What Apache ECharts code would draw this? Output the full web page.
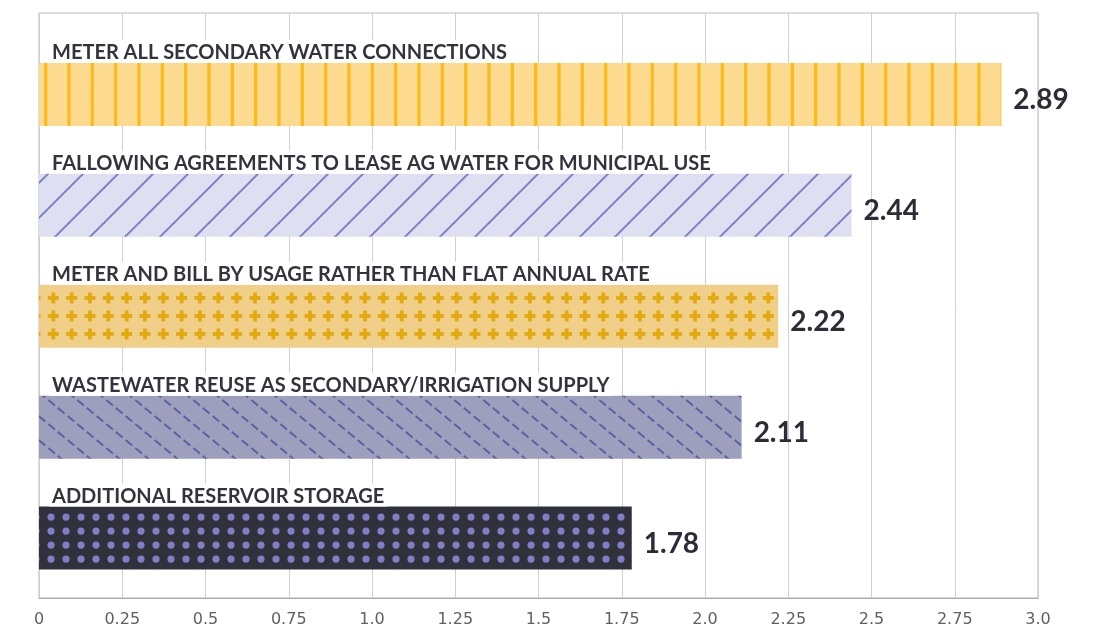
<!DOCTYPE html>
<html>
<head>
<meta charset="utf-8">
<script src="https://cdn.jsdelivr.net/npm/echarts@6/dist/echarts.min.js"></script>
<style>
  html, body { margin: 0; padding: 0; background: #ffffff; }
  #chart { width: 1100px; height: 629px; }
</style>
</head>
<body>
<div id="chart"></div>
<script>
// Water-supply measures, listed top to bottom, with their average scores
const categories = [
  'METER ALL SECONDARY WATER CONNECTIONS',
  'FALLOWING AGREEMENTS TO LEASE AG WATER FOR MUNICIPAL USE',
  'METER AND BILL BY USAGE RATHER THAN FLAT ANNUAL RATE',
  'WASTEWATER REUSE AS SECONDARY/IRRIGATION SUPPLY',
  'ADDITIONAL RESERVOIR STORAGE'
];
const values = [2.89, 2.44, 2.22, 2.11, 1.78];
const tickLabels = ['0', '0.25', '0.5', '0.75', '1.0', '1.25', '1.5', '1.75', '2.0', '2.25', '2.5', '2.75', '3.0'];

const BAR_H = 63;
const chart = echarts.init(document.getElementById('chart'), null, { renderer: 'canvas' });

function tile(w, h, draw) {
  const c = document.createElement('canvas');
  c.width = w; c.height = h;
  draw(c.getContext('2d'));
  return c;
}
const mod = (a, m) => ((a % m) + m) % m;

// Fill patterns; each one is laid out against the bar's top edge (pattern origin is the canvas origin)
function stripes(top) {
  const W = 70, H = BAR_H;
  return tile(W, H, ctx => {
    ctx.fillStyle = '#fcda8f'; ctx.fillRect(0, 0, W, H);
    ctx.fillStyle = '#fbbb1d';
    for (let k = 0; k < 3; k++) {
      const x = mod(44 + k * W / 3, W);
      ctx.fillRect(x, 0, 3.3, H); ctx.fillRect(x - W, 0, 3.3, H);
    }
  });
}
function slashes(top) {
  const S = 35;
  const c = mod(55 + top + BAR_H, S);
  return tile(S, S, ctx => {
    ctx.fillStyle = '#dedff0'; ctx.fillRect(0, 0, S, S);
    ctx.strokeStyle = '#7f80c4'; ctx.lineWidth = 2;
    for (let m = -1; m <= 2; m++) {
      ctx.beginPath();
      ctx.moveTo(c + S * m + 1, -1); ctx.lineTo(c + S * m - S - 1, S + 1);
      ctx.stroke();
    }
  });
}
function pluses(top) {
  const W = 55, H = BAR_H;
  return tile(W, H, ctx => {
    ctx.fillStyle = '#f0cf89'; ctx.fillRect(0, 0, W, H);
    ctx.fillStyle = '#e3a910';
    for (let r = 0; r < 3; r++) {
      const cy = mod(top + 13.2 + 18 * r, H);
      for (let k = 0; k < 3; k++) {
        const cx = mod(53.3 + k * W / 3, W);
        for (const dx of [0, -W, W]) for (const dy of [0, -H, H]) {
          ctx.fillRect(cx + dx - 5.5, cy + dy - 1.9, 11, 3.8);
          ctx.fillRect(cx + dx - 1.9, cy + dy - 5.5, 3.8, 11);
        }
      }
    }
  });
}
function dashes(top) {
  const W = 29, H = 24;
  const L = Math.sqrt(W * W + H * H), p = L / 3;
  return tile(W, H, ctx => {
    ctx.fillStyle = '#9e9ebd'; ctx.fillRect(0, 0, W, H);
    ctx.strokeStyle = '#5c5ca2'; ctx.lineWidth = 1.8;
    ctx.setLineDash([p * 0.68, p * 0.32]);
    for (const [ox, oy] of [[0, 0], [0, -H], [0, H], [-W, 0], [W, 0]]) {
      ctx.beginPath();
      ctx.moveTo(ox - W, oy - H); ctx.lineTo(ox + 2 * W, oy + 2 * H);
      ctx.stroke();
    }
  });
}
function dots(top) {
  const W = 15, H = BAR_H;
  return tile(W, H, ctx => {
    ctx.fillStyle = '#30313a'; ctx.fillRect(0, 0, W, H);
    ctx.fillStyle = '#7f7fc6';
    const cx = mod(51, W);
    for (let r = 0; r < 4; r++) {
      const cy = mod(top + 10.5 + 14 * r, H);
      for (const dx of [0, -W, W]) for (const dy of [0, -H, H]) {
        ctx.beginPath(); ctx.arc(cx + dx, cy + dy, 3.6, 0, Math.PI * 2); ctx.fill();
      }
    }
  });
}
const patternMakers = [stripes, slashes, pluses, dashes, dots];
const plainColors = ['#fcda8f', '#dedff0', '#f0cf89', '#9e9ebd', '#30313a'];

const tickStyle = { color: '#606060', fontSize: 16, fontFamily: '"DejaVu Sans", sans-serif' };

function buildOption(itemColors) {
  return {
    animation: false,
    backgroundColor: '#ffffff',
    grid: [
      { left: 39, right: 62, top: 13, bottom: 31, show: true, borderColor: '#b9b9b9', borderWidth: 1, backgroundColor: 'transparent' },
      { left: 39, right: 62, top: 39, bottom: 35.5 }
    ],
    xAxis: [
      {
        gridIndex: 0, type: 'value', min: 0, max: 3, interval: 0.25,
        axisLine: { show: true, lineStyle: { color: '#a9a9a9', width: 1 } },
        axisTick: { show: false },
        splitLine: { show: true, lineStyle: { color: '#d0d0d0', width: 1 } },
        axisLabel: Object.assign({
          margin: 14,
          formatter: v => '{t|' + tickLabels[Math.round(v / 0.25)] + '}',
          rich: { t: tickStyle }
        }, tickStyle)
      },
      { gridIndex: 1, type: 'value', min: 0, max: 3, show: false, splitLine: { show: false } }
    ],
    yAxis: [
      { gridIndex: 0, type: 'value', show: false, min: 0, max: 1, splitLine: { show: false } },
      { gridIndex: 1, type: 'category', inverse: true, data: categories, show: false }
    ],
    series: [
      {
        type: 'bar', xAxisIndex: 1, yAxisIndex: 1, barWidth: BAR_H, barGap: '-100%',
        data: values.map((v, i) => ({ value: v, itemStyle: { color: itemColors[i] } })),
        emphasis: { disabled: true },
        label: {
          show: true, position: 'right', distance: 12, offset: [0, 6],
          formatter: p => p.value.toFixed(2),
          fontFamily: 'Lato, "Open Sans", sans-serif', fontWeight: 'bold', fontSize: 28, color: '#2c2c36'
        },
        z: 3
      },
      {
        type: 'bar', xAxisIndex: 1, yAxisIndex: 1, barWidth: BAR_H, barGap: '-100%',
        data: values,
        itemStyle: { color: 'transparent' },
        emphasis: { disabled: true },
        silent: true,
        label: {
          show: true, position: [10, 0], align: 'left', verticalAlign: 'bottom',
          formatter: p => p.name,
          fontFamily: 'Lato, "Open Sans", sans-serif', fontWeight: 'bold', fontSize: 20, color: '#33333d',
          backgroundColor: '#ffffff', padding: [3, 3, 1, 3], lineHeight: 19
        },
        z: 4
      }
    ]
  };
}

chart.setOption(buildOption(plainColors));
// Once the axes are laid out, build each bar's fill against its pixel position
const fills = values.map((v, i) => {
  const pt = chart.convertToPixel({ xAxisIndex: 1, yAxisIndex: 1 }, [0, i]);
  const top = pt[1] - BAR_H / 2;
  return { image: patternMakers[i](top), repeat: 'repeat' };
});
chart.setOption(buildOption(fills));
</script>
</body>
</html>
